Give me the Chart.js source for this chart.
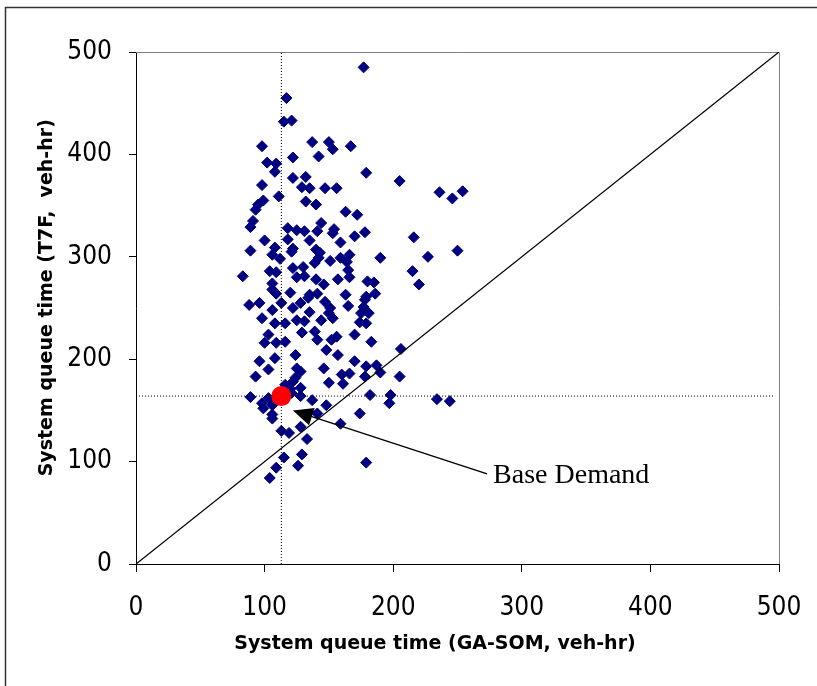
<!DOCTYPE html>
<html>
<head>
<meta charset="utf-8">
<script src="https://cdn.jsdelivr.net/npm/chart.js@4.4.1/dist/chart.umd.min.js"></script>
<style>
  html, body { margin: 0; padding: 0; background: #fff; }
  #wrap { width: 817px; height: 686px; position: relative; }
</style>
</head>
<body>
<div id="wrap"><canvas id="c" width="817" height="686"></canvas></div>
<script>
// ---- data ----
const gaSomX = [
  177,117,115,121,98,102,109,108,122,137,150,153,142,167,179,122,132,205,
  98,129,135,147,156,99,111,132,140,95,93,163,172,91,89,144,118,125,131,141,154,153,170,178,216,118,100,135,159,122,121,108,89,140,143,106,112,142,139,151,159,166,164,190,122,130,104,109,83,125,131,165,166,140,157,146,180,185,106,106,109,120,135,141,163,179,186,
  134,147,151,165,178,88,96,106,113,122,128,135,98,108,116,125,131,144,150,153,175,179,129,139,170,103,100,109,116,141,152,156,183,206,148,157,124,108,96,170,179,187,125,146,103,128,93,124,122,160,166,178,205,150,128,120,116,121,128,89,98,103,106,99,137,148,182,198,197,106,
  106,141,174,159,128,113,119,133,129,115,179,126,109,104,
  236,246,254,227,250,215,220,177,181,174,190,161,234,244
];
const t7fY = [
  485,455,432,433,408,392,391,383,397,412,412,405,398,408,382,377,378,374,
  370,368,367,367,367,355,359,354,351,351,346,344,341,335,329,333,328,326,325,325,327,323,320,324,319,317,316,316,314,308,305,309,306,307,304,302,298,299,294,296,299,302,295,299,289,290,286,285,281,280,281,287,280,278,278,273,276,275,274,268,264,265,263,264,263,261,264,
  260,256,250,252,258,253,255,248,255,250,255,246,240,235,235,238,237,238,245,240,245,235,226,227,224,224,216,216,217,219,219,222,217,210,209,204,204,201,198,198,193,194,191,191,190,188,183,182,178,185,186,183,183,177,172,171,175,167,164,163,157,162,155,152,160,155,165,165,157,146,
  142,147,147,137,134,130,128,122,107,104,99,96,94,84,
  363,357,364,300,306,286,273,251,245,236,187,176,161,159
];
const baseDemand = [113, 164];          // [GA-SOM, T7F]
const diagonal = [0, 500];
const axisTicks = [0, 100, 200, 300, 400, 500];
const xTitle = 'System queue time (GA-SOM, veh-hr)';
const yTitle = 'System queue time (T7F,  veh-hr)';
const annotationText = 'Base Demand';
const arrowTail = [273, 88];
const arrowTip = [122, 150];

// ---- build datasets ----
const scatterPts = gaSomX.map((x, i) => ({ x: x, y: t7fY[i] }));
const navy = '#000080';
const tickFont = { family: "'Liberation Sans Narrow', 'DejaVu Sans Condensed', sans-serif", size: 26 };

const decor = {
  id: 'decor',
  beforeDraw(chart) {
    const ctx = chart.ctx;
    ctx.save();
    ctx.fillStyle = '#fff';
    ctx.fillRect(0, 0, chart.width, chart.height);
    ctx.strokeStyle = '#333';
    ctx.lineWidth = 1.5;
    ctx.strokeRect(5.5, 7.5, chart.width + 20, chart.height + 20);
    ctx.restore();
  },
  beforeDatasetsDraw(chart) {
    const { ctx, chartArea: a } = chart;
    ctx.save();
    ctx.strokeStyle = '#808080';
    ctx.lineWidth = 1;
    ctx.beginPath();
    ctx.moveTo(a.left, a.top + 0.5);
    ctx.lineTo(a.right + 0.5, a.top + 0.5);
    ctx.lineTo(a.right + 0.5, a.bottom);
    ctx.stroke();
    ctx.restore();
  },
  afterDraw(chart) {
    const { ctx, chartArea: a } = chart;
    const xs = chart.scales.x, ys = chart.scales.y;
    ctx.save();
    // arrow
    const tx = xs.getPixelForValue(arrowTail[0]), ty = ys.getPixelForValue(arrowTail[1]);
    const hx = xs.getPixelForValue(arrowTip[0]), hy = ys.getPixelForValue(arrowTip[1]);
    const ang = Math.atan2(hy - ty, hx - tx);
    const L = 20, W = 9;
    const bx = hx - L * Math.cos(ang), by = hy - L * Math.sin(ang);
    ctx.strokeStyle = '#000';
    ctx.lineWidth = 1.5;
    ctx.beginPath();
    ctx.moveTo(tx, ty);
    ctx.lineTo(bx, by);
    ctx.stroke();
    ctx.fillStyle = '#000';
    ctx.beginPath();
    ctx.moveTo(hx, hy);
    ctx.lineTo(bx + W * Math.sin(ang), by - W * Math.cos(ang));
    ctx.lineTo(bx - W * Math.sin(ang), by + W * Math.cos(ang));
    ctx.closePath();
    ctx.fill();
    // annotation text
    ctx.font = "28px 'Liberation Serif', 'DejaVu Serif', serif";
    ctx.textAlign = 'left';
    ctx.textBaseline = 'middle';
    ctx.fillText(annotationText, tx + 6, ty + 2);
    // axis titles
    ctx.font = "bold 19px 'DejaVu Sans', sans-serif";
    ctx.textAlign = 'center';
    ctx.textBaseline = 'middle';
    ctx.fillText(xTitle, a.left + (a.right - a.left) * 0.465, a.bottom + 80);
    ctx.translate(a.left - 89, a.top + (a.bottom - a.top) * 0.48);
    ctx.rotate(-Math.PI / 2);
    ctx.fillText(yTitle, 0, 0);
    ctx.restore();
  }
};

new Chart(document.getElementById('c'), {
  type: 'scatter',
  data: {
    datasets: [
      {
        label: 'Base Demand',
        data: [{ x: baseDemand[0], y: baseDemand[1] }],
        pointStyle: 'circle',
        pointRadius: 10,
        backgroundColor: '#ff0000',
        borderColor: '#ff0000',
        borderWidth: 0,
        order: 0
      },
      {
        label: 'diagonal',
        data: diagonal.map(v => ({ x: v, y: v })),
        showLine: true,
        pointRadius: 0,
        borderColor: '#000',
        borderWidth: 1.3,
        order: 1
      },
      {
        label: 'base x',
        data: [{ x: baseDemand[0], y: axisTicks[0] }, { x: baseDemand[0], y: axisTicks[axisTicks.length - 1] }],
        showLine: true,
        pointRadius: 0,
        borderColor: '#000',
        borderWidth: 1,
        borderDash: [1, 2],
        order: 1
      },
      {
        label: 'base y',
        data: [{ x: axisTicks[0], y: baseDemand[1] }, { x: 497, y: baseDemand[1] }],
        showLine: true,
        pointRadius: 0,
        borderColor: '#000',
        borderWidth: 1,
        borderDash: [1, 2],
        order: 1
      },
      {
        label: 'scenarios',
        data: scatterPts,
        pointStyle: 'rectRot',
        pointRadius: 5.5,
        backgroundColor: navy,
        borderColor: navy,
        borderWidth: 1,
        order: 2
      }
    ]
  },
  options: {
    responsive: false,
    animation: false,
    events: [],
    layout: { padding: { top: 52, right: 38, left: 0, bottom: 0 } },
    plugins: { legend: { display: false }, tooltip: { enabled: false } },
    scales: {
      x: {
        type: 'linear',
        min: axisTicks[0], max: axisTicks[axisTicks.length - 1],
        afterBuildTicks(s) { s.ticks = axisTicks.map(v => ({ value: v })); },
        afterFit(s) { s.height = 122; s.paddingLeft = 0; s.paddingRight = 0; },
        grid: { display: true, drawOnChartArea: false, drawTicks: true, tickLength: 8, color: '#000', lineWidth: 1 },
        border: { display: true, color: '#000', width: 1 },
        ticks: { color: '#000', font: tickFont, padding: 21, maxRotation: 0 }
      },
      y: {
        type: 'linear',
        min: axisTicks[0], max: axisTicks[axisTicks.length - 1],
        afterBuildTicks(s) { s.ticks = axisTicks.map(v => ({ value: v })); },
        afterFit(s) { s.width = 136; s.paddingTop = 0; s.paddingBottom = 0; },
        grid: { display: true, drawOnChartArea: false, drawTicks: true, tickLength: 7, color: '#000', lineWidth: 1 },
        border: { display: true, color: '#000', width: 1 },
        ticks: { color: '#000', font: tickFont, padding: 17 }
      }
    }
  },
  plugins: [decor]
});
</script>
</body>
</html>
